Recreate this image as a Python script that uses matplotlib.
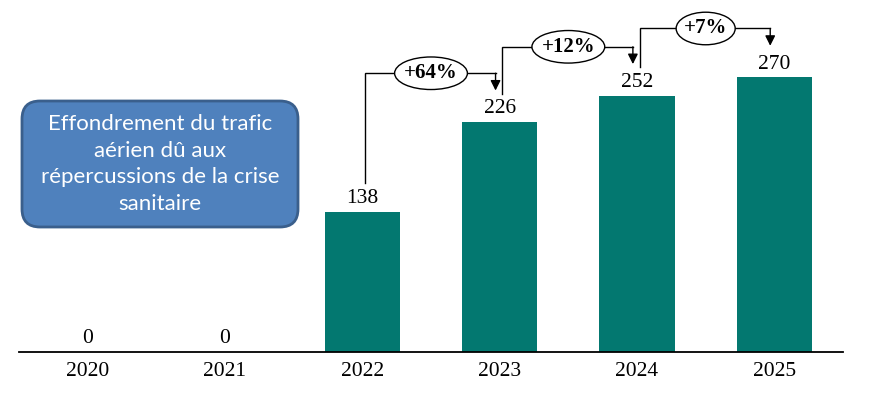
import numpy as np
import matplotlib.pyplot as plt
from matplotlib.patches import Ellipse, FancyBboxPatch

# --------------------------------------------------------------
# DONNÉES
# --------------------------------------------------------------
years = ["2020", "2021", "2022", "2023", "2024", "2025"]
values = [0, 0, 138, 226, 252, 270]
growth_pairs = [(2, 3), (3, 4), (4, 5)]
note_text = "Effondrement du trafic\naérien dû aux\nrépercussions de la crise\nsanitaire"

BAR_COLOR = "#037870"
BOX_FILL = "#4F81BD"
BOX_EDGE = "#3A5F8C"
SERIF = "Liberation Serif"

# --------------------------------------------------------------
# FIGURE
# --------------------------------------------------------------
fig = plt.figure(figsize=(8.75, 3.95), dpi=100)
ax = fig.add_axes([19 / 875, 43 / 395, 824 / 875, 352 / 395])

x = np.arange(len(years))
ax.bar(x, values, width=0.55, color=BAR_COLOR, zorder=2)

ax.set_xlim(-0.5, len(years) - 0.5)
ax.set_ylim(0, 346)

for spine in ["top", "right", "left"]:
    ax.spines[spine].set_visible(False)
ax.spines["bottom"].set_linewidth(1.3)
ax.set_yticks([])
ax.set_xticks(x)
ax.set_xticklabels(years, fontfamily=SERIF, fontsize=15.5)
ax.tick_params(axis="x", length=0, pad=7)

# valeurs au-dessus des barres
for xi, v in zip(x, values):
    ax.text(xi, v + 13, f"{v}", ha="center", va="center",
            fontfamily=SERIF, fontsize=15.5)

# flèches d'évolution
for i, j in growth_pairs:
    start_y = values[i] + 28
    level = values[j] + 48
    tip = values[j] + 31
    x0 = x[i] + 0.02
    x1 = x[j] - 0.03
    ax.plot([x0, x0, x1], [start_y, level, level], color="black", lw=1, zorder=3,
            solid_joinstyle="miter")
    ax.annotate("", xy=(x1, tip), xytext=(x1, level),
                arrowprops=dict(arrowstyle="-|>,head_length=0.6,head_width=0.3",
                                color="black", lw=1, shrinkA=0, shrinkB=0), zorder=3)
    label = f"+{round((values[j] / values[i] - 1) * 100)}%"
    mid = (x[i] + x[j]) / 2
    ax.add_patch(Ellipse((mid, level), width=0.1 * len(label) + 0.13, height=32,
                         facecolor="white", edgecolor="black", lw=1, zorder=4))
    ax.text(mid, level, label, ha="center", va="center", fontfamily=SERIF,
            fontsize=15, fontweight="bold", zorder=5)

# encadré
box = FancyBboxPatch((0.22, 1.68), 2.76, 1.26,
                     boxstyle="round,pad=0,rounding_size=0.18",
                     transform=fig.dpi_scale_trans, facecolor=BOX_FILL,
                     edgecolor=BOX_EDGE, lw=2, zorder=6)
fig.patches.append(box)
fig.text(1.60 / 8.75, 2.31 / 3.95, note_text, ha="center", va="center",
         color="white", fontfamily="Lato", fontsize=16, linespacing=1.4, zorder=7)

fig.savefig("out.png", dpi=100)
